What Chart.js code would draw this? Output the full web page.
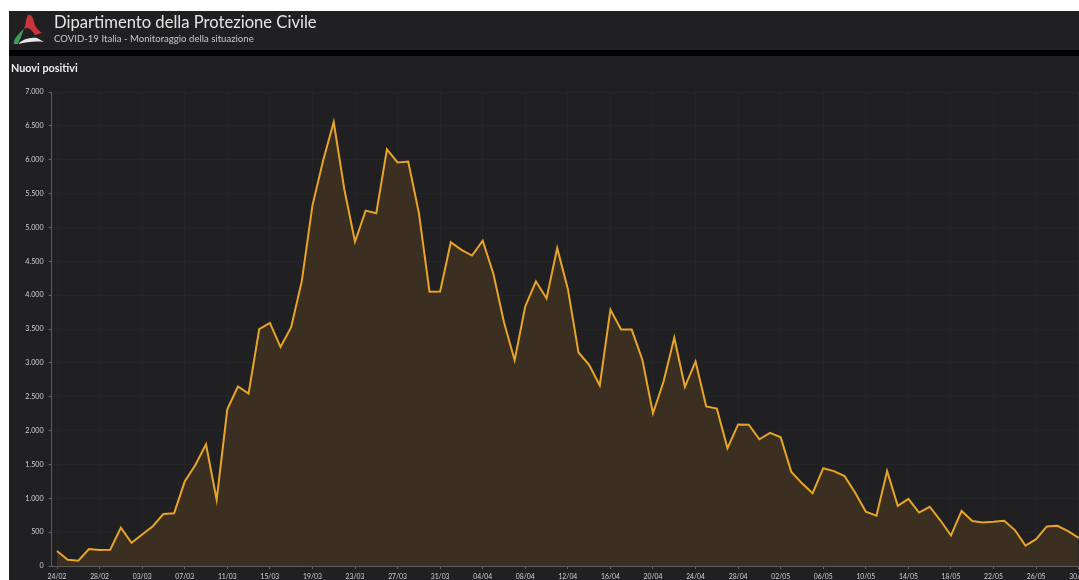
<!DOCTYPE html>
<html>
<head>
<meta charset="utf-8">
<title>Nuovi positivi</title>
<script src="https://cdn.jsdelivr.net/npm/chart.js@4"></script>
<style>
html, body { margin: 0; padding: 0; background: #fff; overflow: hidden; width: 1079px; height: 580px; }
#page { position: absolute; left: 9px; top: 11px; width: 1070px; height: 569px; background: #202022; overflow: hidden; font-family: Lato, "Open Sans", sans-serif; }
#blur { position: absolute; left: 0; top: 0; width: 1070px; height: 569px; filter: blur(0.65px); }
#bar { position: absolute; left: 0; top: 39px; width: 1070px; height: 6px; background: #000; }
#logo { position: absolute; left: 2px; top: 2px; }
#head1 { position: absolute; left: 45px; top: 1px; font-size: 16.6px; color: #e4e4e4; white-space: nowrap; }
#head2 { position: absolute; left: 45px; top: 22px; font-size: 9.6px; color: #c8c8c8; white-space: nowrap; }
#sub { position: absolute; left: 2px; top: 50px; font-size: 10.8px; font-weight: bold; color: #eee; white-space: nowrap; }
#wrap { position: absolute; left: -9px; top: 60px; width: 1110px; height: 509px; }
</style>
</head>
<body>
<div id="page">
<div id="blur">
	<svg id="logo" width="36" height="34" viewBox="0 0 36 34">
		<path d="M17 2 C20 1 22 4 23 9 C24 14 27 17 31 20 L24 22 C21 17 17 13 13 16 C15 11 15 5 17 2 Z" fill="#c8343a"/>
		<path d="M3 31 C2 26 8 20 13 16 C11 21 10 25 7 31 Z" fill="#3f9a57"/>
		<path d="M7 31 C12 26 19 24 26 25 L33 29 C25 28 15 29 7 31 Z" fill="#e8e8e8"/>
	</svg>
	<div id="head1">Dipartimento della Protezione Civile</div>
	<div id="head2">COVID-19 Italia - Monitoraggio della situazione</div>
	<div id="bar"></div>
	<div id="sub">Nuovi positivi</div>
	<div id="wrap"><canvas id="myChart" width="1110" height="509" style="width:1110px;height:509px"></canvas></div>
</div>
</div>
<script>
var days = [
	"24/02","25/02","26/02","27/02","28/02","29/02","01/03","02/03","03/03","04/03","05/03","06/03","07/03","08/03","09/03","10/03",
	"11/03","12/03","13/03","14/03","15/03","16/03","17/03","18/03","19/03","20/03","21/03","22/03","23/03","24/03","25/03","26/03",
	"27/03","28/03","29/03","30/03","31/03","01/04","02/04","03/04","04/04","05/04","06/04","07/04","08/04","09/04","10/04","11/04",
	"12/04","13/04","14/04","15/04","16/04","17/04","18/04","19/04","20/04","21/04","22/04","23/04","24/04","25/04","26/04","27/04",
	"28/04","29/04","30/04","01/05","02/05","03/05","04/05","05/05","06/05","07/05","08/05","09/05","10/05","11/05","12/05","13/05",
	"14/05","15/05","16/05","17/05","18/05","19/05","20/05","21/05","22/05","23/05","24/05","25/05","26/05","27/05","28/05","29/05","30/05"
];
var nuoviPositivi = [
	221, 93, 78, 250, 238, 240, 566, 342, 466, 587, 769, 778, 1247, 1492, 1797, 977,
	2313, 2651, 2547, 3497, 3590, 3233, 3526, 4207, 5322, 5986, 6557, 5560, 4789, 5249, 5210, 6153,
	5959, 5974, 5217, 4050, 4053, 4782, 4668, 4585, 4805, 4316, 3599, 3039, 3836, 4204, 3951, 4694,
	4092, 3153, 2972, 2667, 3786, 3493, 3491, 3047, 2256, 2729, 3370, 2646, 3021, 2357, 2324, 1739,
	2091, 2086, 1872, 1965, 1900, 1389, 1221, 1075, 1444, 1401, 1327, 1083, 802, 744, 1402, 888,
	992, 789, 875, 675, 451, 813, 665, 642, 652, 669, 531, 300, 397, 584, 593, 516, 416
];

var ctx = document.getElementById("myChart");
var myChart = new Chart(ctx, {
	type: 'line',
	data: {
		labels: days,
		datasets: [{
			label: 'Nuovi positivi',
			data: nuoviPositivi,
			borderColor: "#e8a428",
			borderWidth: 2,
			backgroundColor: "rgb(58,47,33)",
			fill: 'origin',
			pointRadius: 0,
			tension: 0
		}]
	},
	options: {
		responsive: false,
		animation: false,
		plugins: { legend: { display: false }, title: { display: false }, tooltip: { enabled: false } },
		layout: { padding: { top: 21, right: 26, left: 0, bottom: 0 } },
		scales: {
			x: {
				offset: true,
				afterFit: function(s){ s.height = 14; },
				grid: {
					offset: false,
					color: function(c){ return c.index % 4 == 0 ? "rgba(255,255,255,0.025)" : "rgba(0,0,0,0)"; },
					tickColor: function(c){ return c.index % 4 == 0 ? "#666" : "rgba(0,0,0,0)"; },
					tickLength: 3
				},
				border: { color: "#5c5c5c" },
				ticks: {
					autoSkip: false,
					maxRotation: 0,
					padding: 4,
					color: "#d0d0d0",
					font: { size: 6.8, family: "Lato" },
					callback: function(v, i){ return i % 4 == 0 ? days[i] : ""; }
				}
			},
			y: {
				min: 0,
				max: 7000,
				afterFit: function(s){ s.width = 51.7; },
				grid: { color: "rgba(255,255,255,0.025)", tickColor: "#666", tickLength: 3 },
				border: { color: "#5c5c5c" },
				ticks: {
					stepSize: 500,
					padding: 5,
					color: "#d0d0d0",
					font: { size: 7.2, family: "Lato" },
					callback: function(v){ return v.toLocaleString("it-IT", { useGrouping: "always" }); }
				}
			}
		}
	}
});
</script>
</body>
</html>
